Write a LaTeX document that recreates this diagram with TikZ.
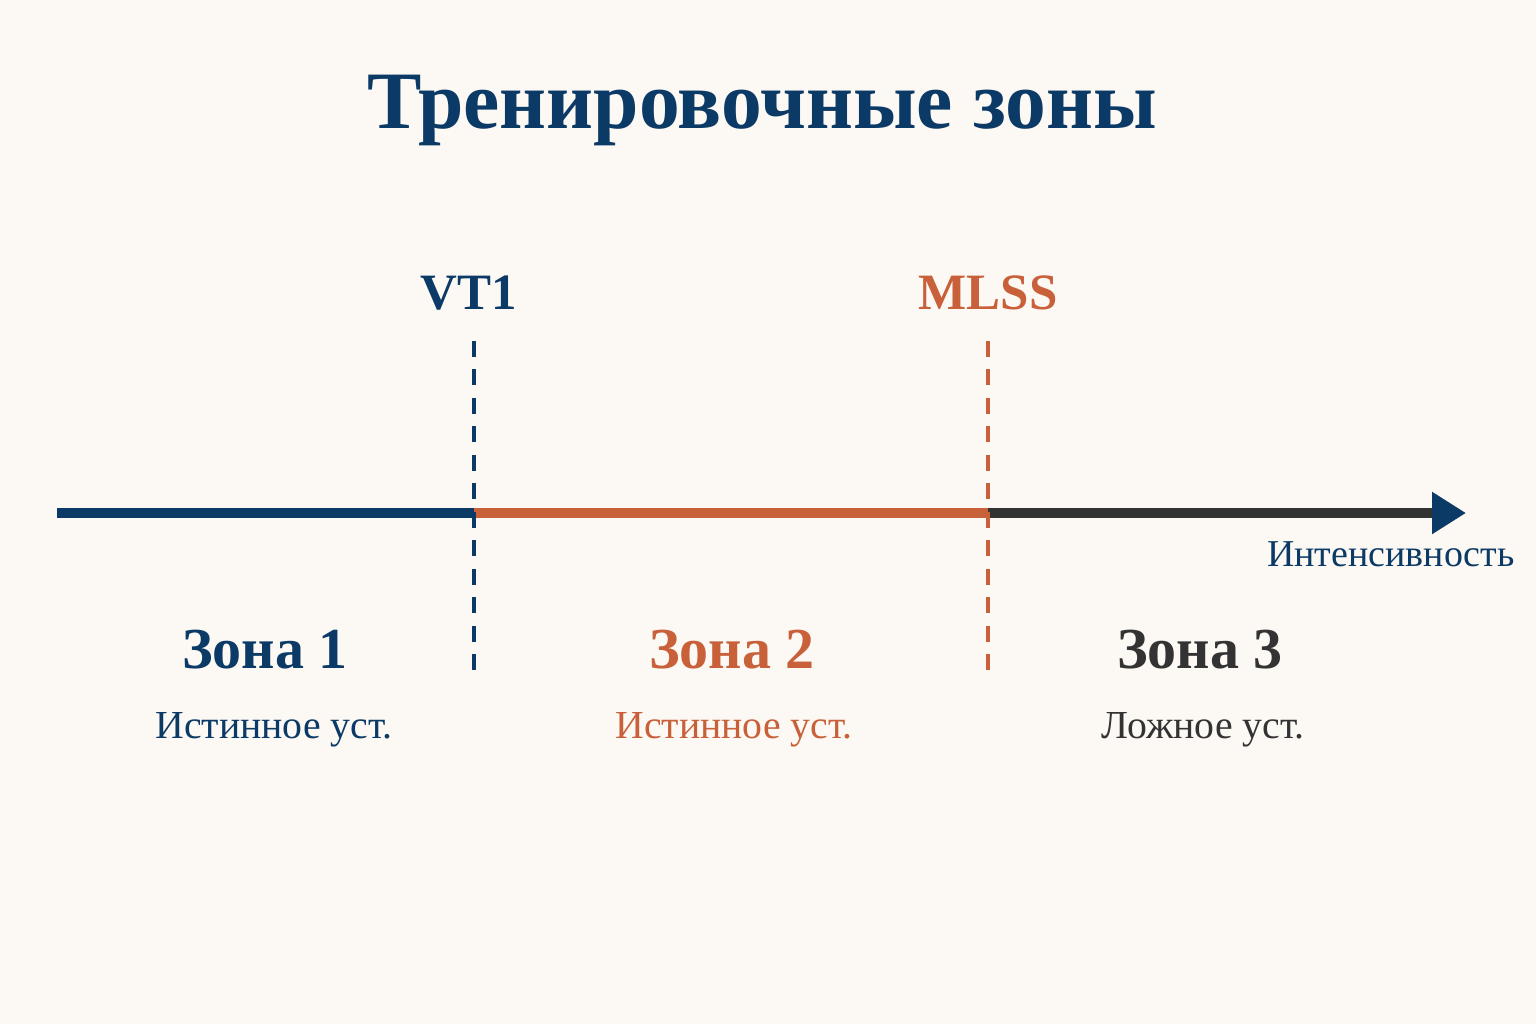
\documentclass[tikz,border=0pt]{standalone}
\usepackage{fontspec}
\setmainfont{Liberation Serif}
\usetikzlibrary{arrows.meta,positioning}
\definecolor{navy}{HTML}{0B3A66}
\definecolor{rust}{HTML}{C8603A}
\definecolor{coal}{HTML}{333333}
\definecolor{paper}{HTML}{FCF8F3}
\tikzset{
    axis/.style ={
        line width=2.6pt
    },
    limit/.style ={
        line width=0.95pt,
        dash pattern=on 4.55pt off 3.55pt
    },
    mark label/.style ={
        font=\fontsize{14.5}{17}\selectfont\bfseries,
        inner sep=0pt
    },
    zone/.style ={
        font=\fontsize{16.5}{19}\selectfont\bfseries,
        inner sep=0pt
    },
    state/.style ={
        font=\fontsize{11.3}{13}\selectfont,
        inner sep=0pt
    }
}

\begin{document}
\begin{tikzpicture}
    \fill[paper] (0,0) rectangle (15.36,10.24);
    \useasboundingbox (0,0) rectangle (15.36,10.24);
    \node[navy,font=\fontsize{23.2}{27}\selectfont\bfseries,inner sep=0pt] (title) at (7.62,9.14) {Тренировочные зоны};
    \coordinate (start) at (0.57,5.11);
    \coordinate (vt1) at (4.74,5.11);
    \coordinate (mlss) at (9.88,5.11);
    \coordinate (end) at (14.66,5.11);
    \coordinate (vt1top) at (4.74,6.83);
    \coordinate (vt1bot) at (4.74,3.49);
    \coordinate (mlsstop) at (9.88,6.83);
    \coordinate (mlssbot) at (9.88,3.49);
    \node[mark label,navy,above=0.3 of vt1top,xshift=-1.5pt] (vt1lbl) {VT1};
    \node[mark label,rust,above=0.3 of mlsstop] (mlsslbl) {MLSS};
    \node[zone,navy] (z1) at (2.65,3.74) {Зона 1};
    \node[zone,rust] (z2) at (7.32,3.74) {Зона 2};
    \node[zone,coal] (z3) at (12.0,3.74) {Зона 3};
    \node[state,navy,below=0.42 of z1,xshift=0.09cm] (s1) {Истинное уст.};
    \node[state,rust,below=0.42 of z2,xshift=0.02cm] (s2) {Истинное уст.};
    \node[state,coal,below=0.42 of z3,xshift=0.03cm] (s3) {Ложное уст.};
    \node[state,navy,font=\fontsize{10.8}{13}\selectfont,below=0.28 of end,xshift=-0.75cm] (axislbl) {Интенсивность};
    % axis
    \draw[axis,navy] (start) -- (vt1);
    \draw[axis,rust] (vt1) -- (mlss);
    \draw[axis,coal,-{Triangle[length=0.34cm,width=0.40cm,color=navy]}] (mlss) -- (end);
    % thresholds
    \draw[limit,navy] (vt1top) -- (vt1bot);
    \draw[limit,rust] (mlsstop) -- (mlssbot);
\end{tikzpicture}
\end{document}
